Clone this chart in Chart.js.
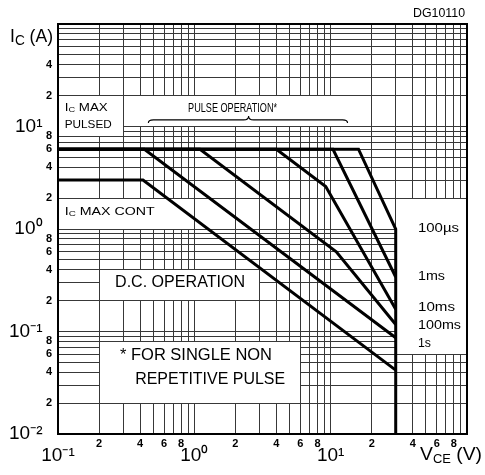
<!DOCTYPE html>
<html><head><meta charset="utf-8">
<script src="https://cdn.jsdelivr.net/npm/chart.js@4/dist/chart.umd.min.js"></script>
<style>html,body{margin:0;padding:0;background:#fff}#wrap{width:485px;height:475px;position:relative}</style>
</head><body><div id="wrap"><canvas id="c"></canvas></div>
<script>
// ---------- data ----------
const xTickValues = [0.1,0.2,0.3,0.4,0.5,0.6,0.7,0.8,0.9,1,2,3,4,5,6,7,8,9,10,20,30,40,50,60,70,80,90,100];
const xLabelValues = [0.1,0.2,0.4,0.6,0.8,1,2,4,6,8,10,20,40,60,80];
const xLabelTexts  = ['10⁻¹','2','4','6','8','10⁰','2','4','6','8','10¹','2','4','6','8'];
const yTickValues = [0.01,0.02,0.03,0.04,0.05,0.06,0.07,0.08,0.09,0.1,0.2,0.3,0.4,0.5,0.6,0.7,0.8,0.9,1,2,3,4,5,6,7,8,9,10,20,30,40,50,60,70,80,90,100];
const yLabelValues = [0.01,0.02,0.04,0.06,0.08,0.1,0.2,0.4,0.6,0.8,1,2,4,6,8,10,20,40];
const yLabelTexts  = ['10⁻²','2','4','6','8','10⁻¹','2','4','6','8','10⁰','2','4','6','8','10¹','2','4'];

// SOA boundaries: collector-emitter voltage (V) and collector current (A)
const dcVce    = [0.1, 0.42, 30];
const dcIc     = [3, 3, 0.042];
const s1Vce    = [0.1, 0.43, 30];
const s1Ic     = [6, 6, 0.087];
const ms100Vce = [0.1, 1.1, 11, 30];
const ms100Ic  = [6, 6, 0.6, 0.117];
const ms10Vce  = [0.1, 4, 9.2, 30];
const ms10Ic   = [6, 6, 2.6, 0.165];
const ms1Vce   = [0.1, 10.4, 30];
const ms1Ic    = [6, 6, 0.34];
const us100Vce = [0.1, 16, 30, 30];
const us100Ic  = [6, 6, 1.0, 0.01];

const seriesNames = ['D.C.', '1s', '100ms', '10ms', '1ms', '100µs'];
const seriesVce = [dcVce, s1Vce, ms100Vce, ms10Vce, ms1Vce, us100Vce];
const seriesIc  = [dcIc, s1Ic, ms100Ic, ms10Ic, ms1Ic, us100Ic];

// ---------- helpers ----------
const FONT = "'Liberation Sans', Arial, sans-serif";
const NARROW = "'Liberation Sans Narrow', 'Liberation Sans', Arial, sans-serif";
function same(a, b) { return Math.abs(Math.log10(a) - Math.log10(b)) < 1e-6; }
function lookup(vals, texts, v) { const i = vals.findIndex(a => same(a, v)); return i < 0 ? '' : texts[i]; }
function isDecade(t) { return t.startsWith('10'); }

// annotation layout (not data)
const whiteBoxes = [
  {x0:0.1, x1:0.3, y0:8, y1:20},
  {x0:0.3, x1:20, y0:10, y1:20},
  {x0:0.1, x1:1, y0:1, y1:2},
  {x0:0.2, x1:3, y0:0.2, y1:0.4},
  {x0:0.2, x1:6, y0:0.02, y1:0.08},
  {x0:30, x1:100, y0:0.06, y1:2}
];
const notes = [
  {runs:[['I',11.5,0],['C',8,2],[' MAX',11.5,0]], x:0.112, y:15.1, w:43},
  {runs:[['PULSED',11.5,0]], x:0.112, y:10.3, w:47},
  {runs:[['PULSE OPERATION*',12.5,0]], x:0.90, y:15.1, w:89},
  {runs:[['I',11.5,0],['C',8,2],[' MAX CONT',11.5,0]], x:0.112, y:1.47, w:90},
  {runs:[['D.C. OPERATION',16,0]], x:0.262, y:0.297, w:130},
  {runs:[['* FOR SINGLE NON',16,0]], x:0.285, y:0.0577, w:152},
  {runs:[['REPETITIVE PULSE',16,0]], x:0.368, y:0.0337, w:150},
  {runs:[['100µs',12,0]], x:43.7, y:1.0, w:41},
  {runs:[['1ms',12,0]], x:43.7, y:0.34, w:27},
  {runs:[['10ms',12,0]], x:43.7, y:0.17, w:37},
  {runs:[['100ms',12,0]], x:43.7, y:0.113, w:43},
  {runs:[['1s',12,0]], x:43.7, y:0.0755, w:13}
];

function drawRuns(ctx, runs, X, Y, targetW, align) {
  let total = 0;
  runs.forEach(r => { ctx.font = r[1] + 'px ' + FONT; total += ctx.measureText(r[0]).width; });
  let s = targetW ? targetW / total : 1;
  s = Math.max(0.7, Math.min(1.3, s));
  ctx.save();
  ctx.textBaseline = 'middle';
  ctx.textAlign = 'left';
  ctx.fillStyle = '#000';
  const startX = align === 'right' ? X - total * s : X;
  ctx.translate(startX, Y);
  ctx.scale(s, 1);
  let cx = 0;
  runs.forEach(r => {
    ctx.font = r[1] + 'px ' + FONT;
    ctx.fillText(r[0], cx, r[2]);
    cx += ctx.measureText(r[0]).width;
  });
  ctx.restore();
}

const annot = {
  id: 'annot',
  beforeDatasetsDraw(chart) {
    const ctx = chart.ctx, xs = chart.scales.x, ys = chart.scales.y;
    ctx.save();
    ctx.fillStyle = '#fff';
    whiteBoxes.forEach(b => {
      const l = Math.round(xs.getPixelForValue(b.x0) - 0.5) + 1;
      const r = Math.round(xs.getPixelForValue(b.x1) - 0.5);
      const t = Math.round(ys.getPixelForValue(b.y1) - 0.5) + 1;
      const bt = Math.round(ys.getPixelForValue(b.y0) - 0.5);
      ctx.fillRect(l, t, r - l, bt - t);
    });
    ctx.restore();
  },
  afterDatasetsDraw(chart) {
    const ctx = chart.ctx, xs = chart.scales.x, ys = chart.scales.y, ca = chart.chartArea;
    notes.forEach(n => drawRuns(ctx, n.runs, xs.getPixelForValue(n.x), ys.getPixelForValue(n.y), n.w));
    // brace under PULSE OPERATION*
    const bx0 = xs.getPixelForValue(0.46), bx1 = xs.getPixelForValue(13.3), bxm = xs.getPixelForValue(2.5);
    const by = ys.getPixelForValue(11.6);
    ctx.save();
    ctx.strokeStyle = '#000'; ctx.lineWidth = 1.1;
    ctx.beginPath();
    ctx.moveTo(bx0, by + 3);
    ctx.quadraticCurveTo(bx0, by, bx0 + 5, by);
    ctx.lineTo(bxm - 5, by);
    ctx.quadraticCurveTo(bxm, by, bxm, by - 4);
    ctx.quadraticCurveTo(bxm, by, bxm + 5, by);
    ctx.lineTo(bx1 - 5, by);
    ctx.quadraticCurveTo(bx1, by, bx1, by + 3);
    ctx.stroke();
    // frame
    ctx.lineWidth = 2;
    ctx.strokeRect(ca.left, ca.top, ca.right - ca.left, ca.bottom - ca.top);
    ctx.restore();
    // axis titles and figure code
    drawRuns(ctx, [['I',18,0],['C',14,4],[' (A)',18,0]], ca.left - 48, ca.top + 13, 43);
    drawRuns(ctx, [['V',18,0],['CE',12,5],[' (V)',18,0]], ca.right + 15, ca.bottom + 21, 62, 'right');
    drawRuns(ctx, [['DG10110',12,0]], ca.right - 2, ca.top - 10, 52, 'right');
  }
};

Chart.defaults.color = '#000';
const GRID = {color:'#383838', lineWidth:1, drawTicks:false};

new Chart(document.getElementById('c'), {
  type: 'scatter',
  data: {
    datasets: seriesNames.map((name, k) => ({
      label: name,
      data: seriesVce[k].map((v, i) => ({x: v, y: seriesIc[k][i]})),
      showLine: true, borderColor: '#000', backgroundColor: '#000',
      borderWidth: 3, pointRadius: 0, pointHoverRadius: 0, tension: 0,
      borderJoinStyle: 'miter', fill: false
    }))
  },
  options: {
    responsive: true, maintainAspectRatio: false, animation: false, events: [],
    layout: {padding: {top: 24, right: 18, left: 0, bottom: 0}},
    plugins: {legend: {display: false}, tooltip: {enabled: false}},
    scales: {
      x: {
        type: 'logarithmic', min: 0.1, max: 100,
        afterBuildTicks: s => { s.ticks = xTickValues.map(v => ({value: v})); },
        afterFit: s => { s.height = 41; },
        grid: GRID, border: {display: false},
        ticks: {
          autoSkip: false, maxRotation: 0, minRotation: 0, padding: 4,
          callback: v => { const t = lookup(xLabelValues, xLabelTexts, v); return isDecade(t) ? ['', t] : t; },
          font: c => {
            const t = c.tick ? lookup(xLabelValues, xLabelTexts, c.tick.value) : '';
            return isDecade(t) ? {family: NARROW, size: 19, lineHeight: '12px'} : {family: FONT, size: 11, weight: 'bold', lineHeight: '12px'};
          }
        }
      },
      y: {
        type: 'logarithmic', min: 0.01, max: 100,
        afterBuildTicks: s => { s.ticks = yTickValues.map(v => ({value: v})); },
        afterFit: s => { s.width = 58; },
        grid: GRID, border: {display: false},
        ticks: {
          autoSkip: false, padding: 6,
          callback: v => { const t = lookup(yLabelValues, yLabelTexts, v); return isDecade(t) ? t + '\u2002' : t; },
          font: c => {
            const t = c.tick ? lookup(yLabelValues, yLabelTexts, c.tick.value) : '';
            return isDecade(t) ? {family: NARROW, size: 19} : {family: FONT, size: 11, weight: 'bold'};
          }
        }
      }
    }
  },
  plugins: [annot]
});
</script></body></html>
